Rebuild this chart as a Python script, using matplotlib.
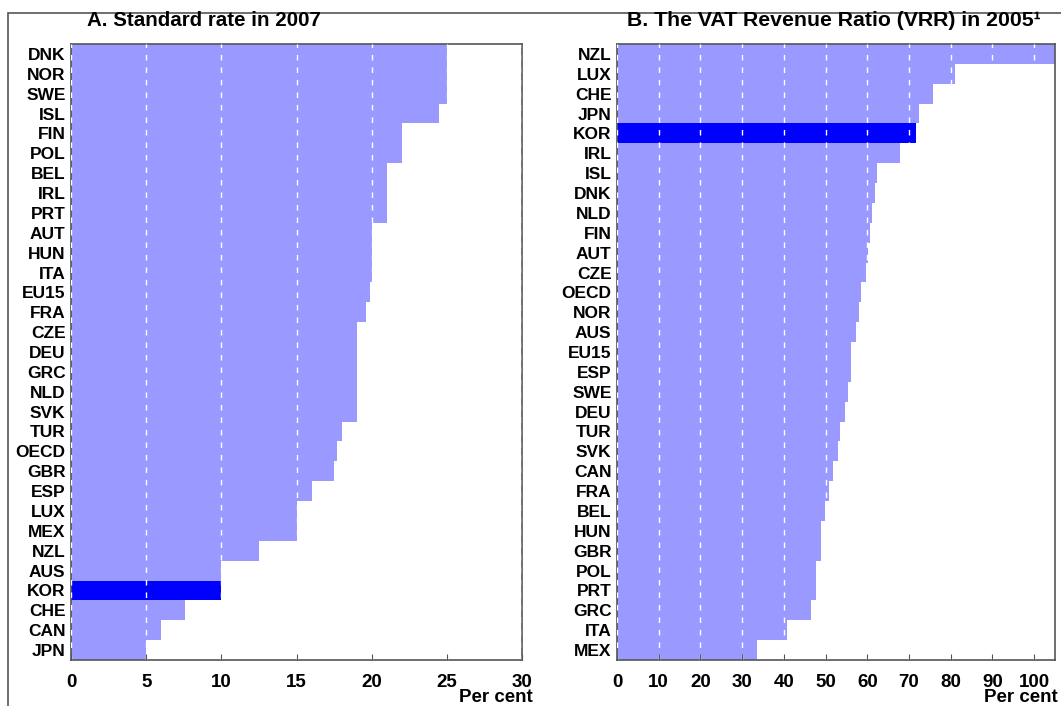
import matplotlib.pyplot as plt
from matplotlib.patches import Rectangle

# Panel A: standard VAT rate in 2007 (per cent)
rate_countries = ['DNK', 'NOR', 'SWE', 'ISL', 'FIN', 'POL', 'BEL', 'IRL', 'PRT', 'AUT',
                  'HUN', 'ITA', 'EU15', 'FRA', 'CZE', 'DEU', 'GRC', 'NLD', 'SVK', 'TUR',
                  'OECD', 'GBR', 'ESP', 'LUX', 'MEX', 'NZL', 'AUS', 'KOR', 'CHE', 'CAN', 'JPN']
rate_values = [25, 25, 25, 24.5, 22, 22, 21, 21, 21, 20,
               20, 20, 19.9, 19.6, 19, 19, 19, 19, 19, 18,
               17.7, 17.5, 16, 15, 15, 12.5, 10, 10, 7.6, 6, 5]

# Panel B: VAT revenue ratio in 2005 (per cent)
vrr_countries = ['NZL', 'LUX', 'CHE', 'JPN', 'KOR', 'IRL', 'ISL', 'DNK', 'NLD', 'FIN',
                 'AUT', 'CZE', 'OECD', 'NOR', 'AUS', 'EU15', 'ESP', 'SWE', 'DEU', 'TUR',
                 'SVK', 'CAN', 'FRA', 'BEL', 'HUN', 'GBR', 'POL', 'PRT', 'GRC', 'ITA', 'MEX']
vrr_values = [106, 81.0, 75.8, 72.5, 71.7, 67.9, 62.3, 61.9, 61.2, 60.6,
              60.2, 59.7, 58.4, 57.9, 57.2, 56.2, 56.0, 55.3, 54.6, 53.5,
              53.0, 51.8, 50.8, 49.8, 49.0, 48.8, 47.8, 47.8, 46.6, 40.8, 33.5]

rate_ticks = [0, 5, 10, 15, 20, 25, 30]
vrr_ticks = [0, 10, 20, 30, 40, 50, 60, 70, 80, 90, 100]

light = '#9999ff'
highlight = '#0000ff'
plt.rcParams['font.family'] = ['Liberation Sans', 'DejaVu Sans']

fig = plt.figure(figsize=(10.61, 7.06), dpi=100)

# frame around the whole chart (only left and top edges fall inside the image)
fig.patches.append(Rectangle((8 / 1061, -0.05), 1.1, 1 - 13 / 706 + 0.05, transform=fig.transFigure,
                             fill=False, edgecolor='#555555', linewidth=1.2))


def draw_panel(ax, names, values, ticks, xmax, title, title_x, title_size, unit_dx):
    ypos = list(range(len(names)))[::-1]
    colors = [highlight if n == 'KOR' else light for n in names]
    ax.barh(ypos, values, height=1.0, color=colors, edgecolor='none', zorder=1)
    ax.set_ylim(-0.5, len(names) - 0.5)
    ax.set_xlim(0, xmax)
    ax.set_yticks(ypos)
    ax.set_yticklabels(names)
    for lab in ax.get_yticklabels():
        lab.set_fontweight('heavy' if lab.get_text() == 'KOR' else 'bold')
        lab.set_fontsize(12.5)
    ax.set_xticks(ticks)
    ax.set_xticklabels([str(t) for t in ticks], fontsize=13.5, fontweight='bold')
    ax.tick_params(axis='y', length=0, pad=4)
    ax.tick_params(axis='x', direction='in', length=4, color='#555555', pad=10)
    ax.xaxis.grid(True, color='white', linestyle=(0, (4, 5)), linewidth=1, zorder=2)
    ax.set_axisbelow(False)
    for s in ax.spines.values():
        s.set_color('#555555')
        s.set_linewidth(1.2)
    ax.annotate('Per cent', xy=(1.0, 0), xycoords='axes fraction', xytext=(unit_dx, -29),
                textcoords='offset pixels', ha='right', va='top', fontsize=13.5, fontweight='bold',
                annotation_clip=False)
    fig.text(title_x, 1 - 21 / 706, title, ha='left', va='center', fontsize=title_size, fontweight='bold')


axA = fig.add_axes([71 / 1061, 46 / 706, 451 / 1061, 616 / 706])
draw_panel(axA, rate_countries, rate_values, rate_ticks, 30, 'A. Standard rate in 2007', 87 / 1061, 14.8, 11)

axB = fig.add_axes([617 / 1061, 46 / 706, 438 / 1061, 616 / 706])
draw_panel(axB, vrr_countries, vrr_values, vrr_ticks, 105, 'B. The VAT Revenue Ratio (VRR) in 2005\u00b9',
           627 / 1061, 15.3, 3)

plt.savefig('out.png', dpi=100)
